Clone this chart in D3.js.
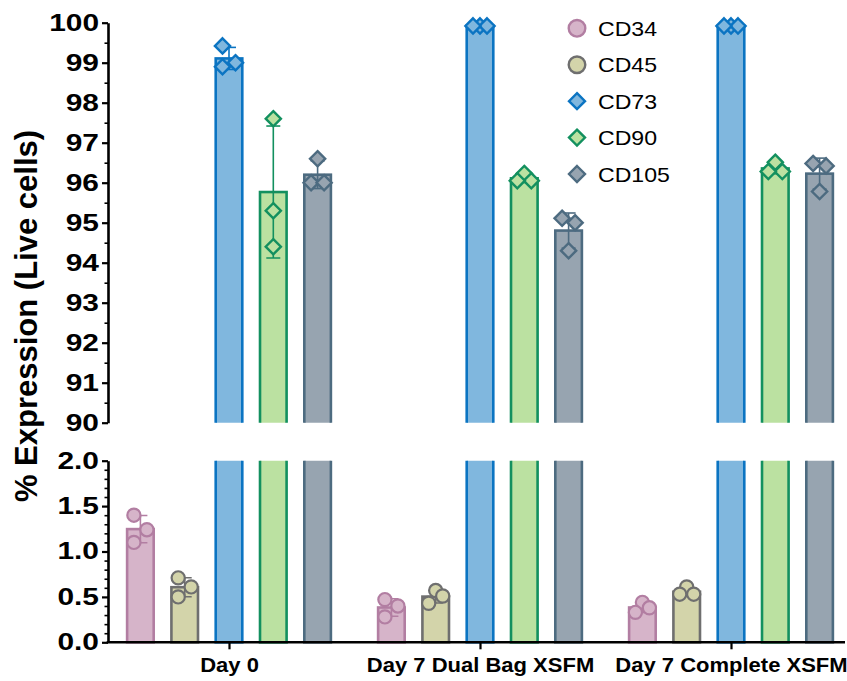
<!DOCTYPE html>
<html>
<head>
<meta charset="utf-8">
<script src="https://cdn.jsdelivr.net/npm/d3@7"></script>
<style>
  html, body { margin: 0; padding: 0; background: #ffffff; }
  svg { display: block; }
</style>
</head>
<body>
<div id="chart"></div>
<script>
// ---------------- data ----------------
const groups = ["Day 0", "Day 7 Dual Bag XSFM", "Day 7 Complete XSFM"];
const markers = ["CD34", "CD45", "CD73", "CD90", "CD105"];
// replicate values (% of live cells) per group, in the order of `groups`
const cd34  = [[1.40, 1.24, 1.10], [0.47, 0.40, 0.28], [0.44, 0.38, 0.33]];
const cd45  = [[0.71, 0.61, 0.50], [0.57, 0.51, 0.43], [0.61, 0.53, 0.53]];
const cd73  = [[99.42, 99.00, 98.90], [99.92, 99.92, 99.92], [99.92, 99.92, 99.92]];
const cd90  = [[97.60, 95.30, 94.40], [96.23, 96.05, 96.05], [96.51, 96.28, 96.28]];
const cd105 = [[96.60, 96.00, 96.00], [95.11, 95.00, 94.30], [96.48, 96.42, 95.78]];
const topTicks = [90, 91, 92, 93, 94, 95, 96, 97, 98, 99, 100];
const bottomTicks = [0, 0.5, 1.0, 1.5, 2.0];
const yTitle = "% Expression (Live cells)";

// ---------------- styles ----------------
const style = {
  CD34:  { fill: "#d6b4c9", stroke: "#b27ea2", shape: "circle" },
  CD45:  { fill: "#d3d4aa", stroke: "#6f6f6f", shape: "circle" },
  CD73:  { fill: "#80b7de", stroke: "#0b74c2", shape: "diamond" },
  CD90:  { fill: "#bbe1a1", stroke: "#13905f", shape: "diamond" },
  CD105: { fill: "#97a4b0", stroke: "#4d6b80", shape: "diamond" }
};
const seriesValues = { CD34: cd34, CD45: cd45, CD73: cd73, CD90: cd90, CD105: cd105 };

const W = 847, H = 681;
const svg = d3.select("#chart").append("svg").attr("width", W).attr("height", H);

// ---------------- scales ----------------
const axisX = 108;
const xGroup = d3.scalePoint().domain(groups).range([229, 731]);
const xSub = d3.scaleBand().domain(markers).range([-110.75, 110.75]).paddingInner(0.4).paddingOuter(0.2);
const yTop = d3.scaleLinear().domain([90, 100]).range([422.7, 22.7]);
const yBot = d3.scaleLinear().domain([0, 2]).range([642.3, 460.7]);

const defs = svg.append("defs");
defs.append("clipPath").attr("id", "clipTop").append("rect")
  .attr("x", 0).attr("width", W).attr("y", 0).attr("height", yTop(90));
defs.append("clipPath").attr("id", "clipBot").append("rect")
  .attr("x", 0).attr("width", W).attr("y", yBot(2)).attr("height", yBot(0) - yBot(2) + 5);

// ---------------- records ----------------
const records = [];
groups.forEach((g, gi) => {
  markers.forEach(m => {
    const vals = seriesValues[m][gi];
    const mean = d3.mean(vals);
    const sd = d3.deviation(vals);
    records.push({ group: g, marker: m, vals, mean, sd });
  });
});

// horizontal spreading of overlapping replicate points (computed, not typed)
function spread(ys) {
  const Dy = 17, Dx = 12, step = 13, maxSpread = 14;
  const idx = ys.map((y, i) => i).sort((a, b) => ys[a] - ys[b]);
  const off = new Array(ys.length).fill(0);
  let comps = [], cur = [];
  idx.forEach((i, k) => {
    if (k > 0 && ys[i] - ys[idx[k - 1]] >= Dy) { comps.push(cur); cur = []; }
    cur.push(i);
  });
  comps.push(cur);
  comps.forEach(c => {
    const placed = [];
    c.forEach(i => {
      const cands = [0, step, -step, 2 * step, -2 * step, 3 * step, -3 * step];
      let chosen = 0;
      for (const cx of cands) {
        const hit = placed.some(p => Math.abs(p.y - ys[i]) < Dy && Math.abs(p.x - cx) < Dx);
        if (!hit) { chosen = cx; break; }
      }
      placed.push({ x: chosen, y: ys[i], i });
    });
    const xs = placed.map(p => p.x);
    const mn = d3.min(xs), mx = d3.max(xs), mid = (mn + mx) / 2;
    const sc = (mx - mn) > maxSpread ? maxSpread / (mx - mn) : 1;
    placed.forEach(p => { off[p.i] = (p.x - mid) * sc; });
  });
  return off;
}

const bw = xSub.bandwidth();
function barX(d) { return xGroup(d.group) + xSub(d.marker); }
function cx(d) { return xGroup(d.group) + xSub(d.marker) + bw / 2; }

// ---------------- panels ----------------
function drawPanel(y, clipId, lo, hi) {
  const g = svg.append("g").attr("clip-path", `url(#${clipId})`);
  const pad = (hi - lo) * 0.15;
  g.selectAll("rect.bar").data(records).join("rect")
    .attr("class", "bar")
    .attr("x", d => barX(d))
    .attr("width", bw)
    .attr("y", d => y(Math.min(d.mean, hi + pad)))
    .attr("height", d => {
      const top = Math.min(d.mean, hi + pad);
      const bottom = lo === 0 ? 0 : lo - pad;
      return Math.max(0, y(bottom) - y(top));
    })
    .attr("fill", d => style[d.marker].fill)
    .attr("stroke", d => style[d.marker].stroke)
    .attr("stroke-width", 2.6);

  // error bars (mean ± SD)
  const inPanel = records.filter(d => d.mean >= lo && d.mean <= hi);
  const eb = g.selectAll("g.eb").data(inPanel).join("g").attr("class", "eb")
    .attr("stroke", d => style[d.marker].stroke).attr("stroke-width", 1.6).attr("fill", "none");
  eb.append("line").attr("x1", cx).attr("x2", cx)
    .attr("y1", d => y(d.mean + d.sd)).attr("y2", d => y(d.mean - d.sd));
  eb.append("line").attr("x1", d => cx(d) - 7).attr("x2", d => cx(d) + 7)
    .attr("y1", d => y(d.mean + d.sd)).attr("y2", d => y(d.mean + d.sd));
  eb.append("line").attr("x1", d => cx(d) - 7).attr("x2", d => cx(d) + 7)
    .attr("y1", d => y(d.mean - d.sd)).attr("y2", d => y(d.mean - d.sd));

  // points
  const pg = svg.append("g");
  inPanel.forEach(d => {
    const ys = d.vals.map(v => y(v));
    const offs = spread(ys);
    d.vals.forEach((v, i) => {
      drawMarker(pg, d.marker, cx(d) + offs[i], ys[i], false);
    });
  });
}

function drawMarker(g, m, x, y, legend) {
  const s = style[m];
  if (s.shape === "circle") {
    g.append("circle").attr("cx", x).attr("cy", y).attr("r", legend ? 8.3 : 6.6)
      .attr("fill", s.fill).attr("stroke", s.stroke).attr("stroke-width", legend ? 2.4 : 2.2);
  } else {
    const r = legend ? 8.0 : 7.6;
    g.append("path")
      .attr("d", `M${x},${y - r}L${x + r},${y}L${x},${y + r}L${x - r},${y}Z`)
      .attr("fill", s.fill).attr("stroke", s.stroke).attr("stroke-width", 2.4)
      .attr("stroke-linejoin", "miter");
  }
}

drawPanel(yTop, "clipTop", 90, 100);
drawPanel(yBot, "clipBot", 0, 2);

// ---------------- axes ----------------
function stretch(sel, f) {
  sel.each(function () {
    const w = this.getComputedTextLength();
    d3.select(this).attr("textLength", w * f).attr("lengthAdjust", "spacingAndGlyphs");
  });
}

function yAxis(y, ticks, fmt, minorStep) {
  const dom = y.domain();
  const minors = d3.range(dom[0], dom[1] + 1e-9, minorStep).filter(v => !ticks.some(t => Math.abs(t - v) < 1e-9));
  const gm = svg.append("g").attr("transform", `translate(${axisX},0)`)
    .call(d3.axisLeft(y).tickValues(minors).tickSize(3.5).tickSizeOuter(0).tickFormat(""));
  gm.select(".domain").remove();
  gm.selectAll(".tick line").attr("stroke", "#000").attr("stroke-width", 1.6);
  const g = svg.append("g").attr("transform", `translate(${axisX},0)`)
    .call(d3.axisLeft(y).tickValues(ticks).tickSize(6).tickSizeOuter(0).tickPadding(3).tickFormat(fmt));
  g.select(".domain").attr("stroke", "#000").attr("stroke-width", 2.6);
  g.selectAll(".tick line").attr("stroke", "#000").attr("stroke-width", 2.2);
  const t = g.selectAll(".tick text")
    .attr("font-family", "'Liberation Sans', Arial, sans-serif")
    .attr("font-weight", "bold").attr("font-size", 23).attr("fill", "#000");
  stretch(t, 1.3);
}
yAxis(yTop, topTicks, d3.format("d"), 0.5);
yAxis(yBot, bottomTicks, d3.format(".1f"), 0.1);

// x axis
svg.append("line").attr("x1", axisX - 1.3).attr("x2", 845).attr("y1", yBot(0)).attr("y2", yBot(0))
  .attr("stroke", "#000").attr("stroke-width", 2.6);
const gx = svg.append("g").attr("transform", `translate(0,${yBot(0)})`)
  .call(d3.axisBottom(xGroup).tickSize(7).tickSizeOuter(0).tickPadding(9));
gx.select(".domain").remove();
gx.selectAll(".tick line").attr("stroke", "#000").attr("stroke-width", 2.2);
const xt = gx.selectAll(".tick text")
  .attr("font-family", "'Liberation Sans', Arial, sans-serif")
  .attr("font-weight", "bold").attr("font-size", 20).attr("fill", "#000");
stretch(xt, 1.1);

// y title
svg.append("text")
  .attr("transform", `translate(37,316) rotate(-90)`)
  .attr("text-anchor", "middle")
  .attr("font-family", "'Liberation Sans', Arial, sans-serif")
  .attr("font-weight", "bold").attr("font-size", 31).attr("fill", "#000")
  .text(yTitle);

// ---------------- legend ----------------
const lg = svg.append("g");
const legY = d3.scalePoint().domain(markers).range([28.3, 174]);
markers.forEach(m => {
  drawMarker(lg, m, 577, legY(m), true);
  const t = lg.append("text").attr("x", 598).attr("y", legY(m) + 7.5)
    .attr("font-family", "'Liberation Sans', Arial, sans-serif")
    .attr("font-size", 21).attr("fill", "#000").text(m);
  stretch(t, 1.1);
});
</script>
</body>
</html>
